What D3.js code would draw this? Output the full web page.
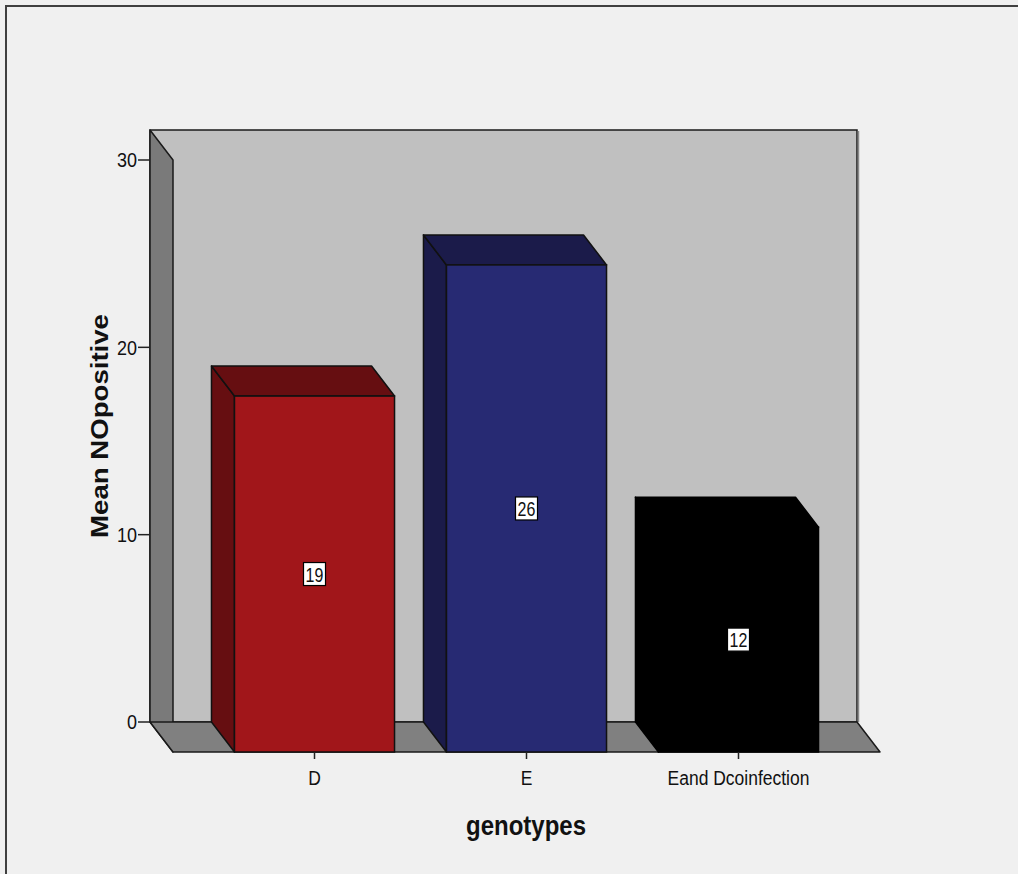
<!DOCTYPE html>
<html>
<head>
<meta charset="utf-8">
<script src="https://cdn.jsdelivr.net/npm/d3@7"></script>
<style>
  html, body { margin: 0; padding: 0; background: #f0f0f0; }
  svg { display: block; }
  text { font-family: "Liberation Sans", Arial, sans-serif; fill: #111; }
</style>
</head>
<body>
<div id="chart"></div>
<script>
const categories = ["D", "E", "Eand Dcoinfection"];
const meanValues = [19, 26, 12];
const valueLabels = ["19", "26", "12"];
const frontColors = ["#a1161a", "#272a73", "#000000"];
const shadeColors = ["#660e11", "#1b1b4a", "#000000"];
const yTicks = [0, 10, 20, 30];

const WIDTH = 1018;
const HEIGHT = 874;
const PLOT = { left: 150, right: 857, wallTop: 130 };
const DEPTH = { dx: 23, dy: 30 };
const SY = 1.15; // the source picture is a little stretched vertically

const svg = d3.select("#chart").append("svg")
  .attr("width", WIDTH)
  .attr("height", HEIGHT);

svg.append("rect")
  .attr("width", WIDTH).attr("height", HEIGHT)
  .attr("fill", "#f0f0f0");

// outer frame (runs off the right / bottom edge)
svg.append("rect")
  .attr("x", 6).attr("y", 6)
  .attr("width", WIDTH + 20).attr("height", HEIGHT + 20)
  .attr("fill", "none")
  .attr("stroke", "#404040")
  .attr("stroke-width", 2);

const y = d3.scaleLinear().domain([0, 30]).range([722, 160]);
const x = d3.scaleBand()
  .domain(categories)
  .range([PLOT.left, PLOT.right])
  .paddingInner(0.245)
  .paddingOuter(0.29);

const pts = (arr) => arr.map((p) => p.join(",")).join(" ");
const y0 = y(0);
const dx = DEPTH.dx, dy = DEPTH.dy;

// back wall
svg.append("rect")
  .attr("x", PLOT.left).attr("y", PLOT.wallTop)
  .attr("width", PLOT.right - PLOT.left)
  .attr("height", y0 - PLOT.wallTop)
  .attr("fill", "#c0c0c0")
  .attr("stroke", "#1a1a1a")
  .attr("stroke-width", 1.5);

svg.append("line")
  .attr("x1", PLOT.right + 1.5).attr("x2", PLOT.right + 1.5)
  .attr("y1", PLOT.wallTop + 1).attr("y2", y0)
  .attr("stroke", "#8a8a8a").attr("stroke-width", 1.5);

// left side wall
svg.append("polygon")
  .attr("points", pts([
    [PLOT.left, PLOT.wallTop],
    [PLOT.left + dx, PLOT.wallTop + dy],
    [PLOT.left + dx, y0 + dy],
    [PLOT.left, y0],
  ]))
  .attr("fill", "#7a7a7a")
  .attr("stroke", "#1a1a1a")
  .attr("stroke-width", 1.5)
  .attr("stroke-linejoin", "round");

// floor
svg.append("polygon")
  .attr("points", pts([
    [PLOT.left, y0],
    [PLOT.right, y0],
    [PLOT.right + dx, y0 + dy],
    [PLOT.left + dx, y0 + dy],
  ]))
  .attr("fill", "#808080")
  .attr("stroke", "#1a1a1a")
  .attr("stroke-width", 1.5)
  .attr("stroke-linejoin", "round");

// y axis ticks and labels
const yAxis = svg.append("g").attr("class", "axis axis--y");
yAxis.selectAll("line")
  .data(yTicks)
  .join("line")
  .attr("x1", PLOT.left - 12).attr("x2", PLOT.left)
  .attr("y1", (d) => y(d)).attr("y2", (d) => y(d))
  .attr("stroke", "#222").attr("stroke-width", 1.5);

yAxis.selectAll("text")
  .data(yTicks)
  .join("text")
  .attr("transform", (d) => `translate(${PLOT.left - 13},${y(d)}) scale(1,${SY})`)
  .attr("text-anchor", "end")
  .attr("dy", "0.36em")
  .style("font-size", "18px")
  .text((d) => d);

// bars
const bars = categories.map((c, i) => ({
  cat: c,
  value: meanValues[i],
  label: valueLabels[i],
  front: frontColors[i],
  shade: shadeColors[i],
}));

const barG = svg.selectAll(".bar")
  .data(bars)
  .join("g")
  .attr("class", "bar");

barG.each(function (d) {
  const g = d3.select(this);
  const xl = x(d.cat);
  const xr = xl + x.bandwidth();
  const yt = y(d.value);
  const stroke = d.front === "#000000" ? "#000" : "#111";

  // left side face
  g.append("polygon")
    .attr("points", pts([[xl, yt], [xl + dx, yt + dy], [xl + dx, y0 + dy], [xl, y0]]))
    .attr("fill", d.shade).attr("stroke", stroke).attr("stroke-width", 1.5)
    .attr("stroke-linejoin", "round");

  // top face
  g.append("polygon")
    .attr("points", pts([[xl, yt], [xr, yt], [xr + dx, yt + dy], [xl + dx, yt + dy]]))
    .attr("fill", d.shade).attr("stroke", stroke).attr("stroke-width", 1.5)
    .attr("stroke-linejoin", "round");

  // front face
  g.append("rect")
    .attr("x", xl + dx).attr("y", yt + dy)
    .attr("width", x.bandwidth())
    .attr("height", y0 - yt)
    .attr("fill", d.front).attr("stroke", stroke).attr("stroke-width", 1.5);

  // value label
  const cx = xl + dx + x.bandwidth() / 2;
  const cy = yt + dy + (y0 - yt) / 2;
  g.append("rect")
    .attr("x", cx - 11).attr("y", cy - 11.5)
    .attr("width", 22).attr("height", 23)
    .attr("fill", "#fff").attr("stroke", "#000").attr("stroke-width", 1.2);
  g.append("text")
    .attr("transform", `translate(${cx},${cy}) scale(1,1.3)`)
    .attr("text-anchor", "middle")
    .attr("dy", "0.36em")
    .style("font-size", "16px")
    .text(d.label);
});

// x axis ticks and labels
const xAxis = svg.append("g").attr("class", "axis axis--x");
xAxis.selectAll("line")
  .data(categories)
  .join("line")
  .attr("x1", (d) => x(d) + dx + x.bandwidth() / 2)
  .attr("x2", (d) => x(d) + dx + x.bandwidth() / 2)
  .attr("y1", y0 + dy).attr("y2", y0 + dy + 7)
  .attr("stroke", "#222").attr("stroke-width", 1.5);

xAxis.selectAll("text")
  .data(categories)
  .join("text")
  .attr("transform", (d) => `translate(${x(d) + dx + x.bandwidth() / 2},${778}) scale(1,${SY})`)
  .attr("text-anchor", "middle")
  .attr("dy", "0.36em")
  .style("font-size", "17.5px")
  .text((d) => d);

// axis titles
svg.append("text")
  .attr("transform", `translate(526,825) scale(1,${SY})`)
  .attr("text-anchor", "middle")
  .attr("dy", "0.36em")
  .style("font-size", "24px")
  .style("font-weight", "bold")
  .text("genotypes");

svg.append("text")
  .attr("transform", `translate(99,426) rotate(-90) scale(${SY},1)`)
  .attr("text-anchor", "middle")
  .attr("dy", "0.36em")
  .style("font-size", "24px")
  .style("font-weight", "bold")
  .text("Mean NOpositive");
</script>
</body>
</html>
